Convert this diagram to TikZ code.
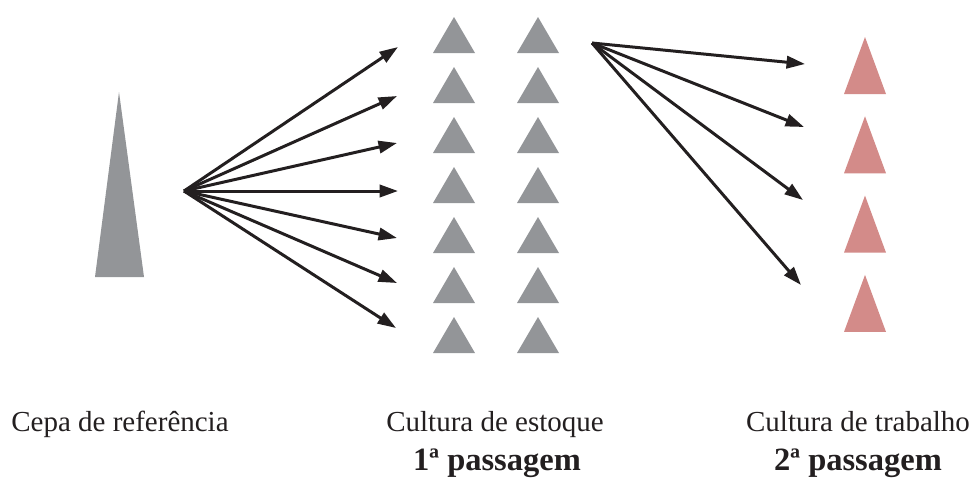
\documentclass[tikz,border=0pt]{standalone}
\usepackage{fontspec}
\setmainfont{Liberation Serif}
\usepackage{xcolor}
\usetikzlibrary{arrows.meta}
\definecolor{cepagray}{HTML}{939598}
\definecolor{trabpink}{HTML}{D38B89}
\definecolor{inkblack}{HTML}{231F20}
\tikzset{
    seta/.style={draw=inkblack,line width=1.7pt,-{Triangle[length=10.5pt,width=7pt]}},
    rotulo/.style={anchor=base,text=inkblack,font=\fontsize{16.5}{19}\selectfont},
    passagem/.style={rotulo,font=\fontsize{18.5}{21}\selectfont\bfseries}
}
\begin{document}
\begin{tikzpicture}[x=0.02cm,y=-0.02cm]
\useasboundingbox (0,0) rectangle (977,478);
% cepa de referencia
\fill[cepagray] (119,92) -- (144,277) -- (95,277) -- cycle;
% cultura de estoque
\foreach \col in {454,538}{
  \foreach \k in {0,...,6}{
    \fill[cepagray] (\col,17+50*\k) -- (\col+21,53+50*\k) -- (\col-21,53+50*\k) -- cycle;
  }
}
% cultura de trabalho
\foreach \k in {0,...,3}{
  \fill[trabpink] (865,37+79.3*\k) -- (886,94+79.3*\k) -- (844,94+79.3*\k) -- cycle;
}
% setas da 1a passagem
\coordinate (origem1) at (184,191);
\foreach \x/\y [count=\i] in {398/47,397/96,397/143,398/191,397/238,397/283,396/328}{
  \coordinate (estoque\i) at (\x,\y);
  \draw[seta] (origem1) -- (estoque\i);
}
% setas da 2a passagem
\coordinate (origem2) at (592,43);
\foreach \x/\y [count=\i] in {805/64,804/127,803/200,801/285}{
  \coordinate (trabalho\i) at (\x,\y);
  \draw[seta] (origem2) -- (trabalho\i);
}
% legendas
\node[rotulo] (cepa) at (120,431) {Cepa de referência};
\node[rotulo] (estoque) at (495,431) {Cultura de estoque};
\node[rotulo] (trabalho) at (858,431) {Cultura de trabalho};
\node[passagem] (pass1) at (497,470) {1ª passagem};
\node[passagem] (pass2) at (858,470) {2ª passagem};
\end{tikzpicture}
\end{document}
